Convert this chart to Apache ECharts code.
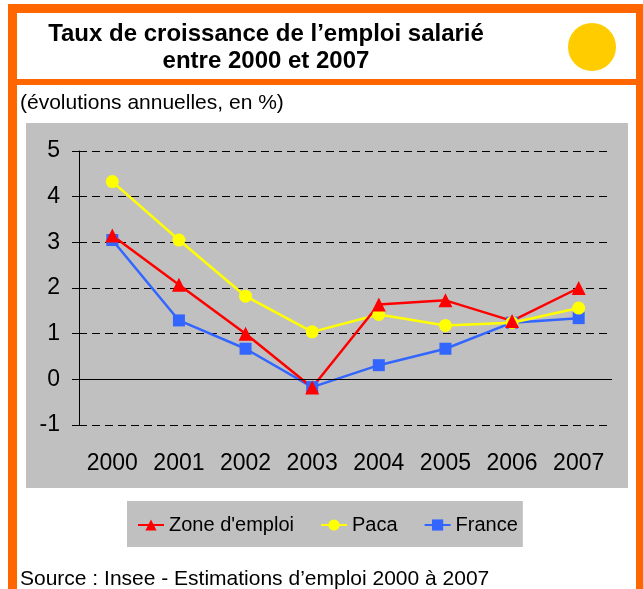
<!DOCTYPE html>
<html>
<head>
<meta charset="utf-8">
<script src="https://cdn.jsdelivr.net/npm/echarts@6/dist/echarts.min.js"></script>
<style>
  html, body { margin: 0; padding: 0; background: #fff; }
  #chart { width: 643px; height: 589px; }
</style>
</head>
<body>
<div id="chart"></div>
<script>
// données
const years = ['2000', '2001', '2002', '2003', '2004', '2005', '2006', '2007'];
const zoneEmploi = [3.15, 2.07, 1.0, -0.18, 1.64, 1.73, 1.28, 2.0];
const paca = [4.33, 3.05, 1.82, 1.04, 1.42, 1.18, 1.24, 1.56];
const france = [3.05, 1.29, 0.67, -0.17, 0.31, 0.67, 1.24, 1.34];
const yTicks = {min: -1, max: 5, step: 1};

const font = '"Liberation Sans", Arial, sans-serif';
const chart = echarts.init(document.getElementById('chart'));

chart.setOption({
  backgroundColor: '#fff',
  animation: false,
  textStyle: {fontFamily: font},
  graphic: [
    // cadre orange
    {type: 'rect', z: -10, shape: {x: 8, y: 4, width: 640, height: 600}, style: {fill: '#FF6600'}},
    {type: 'rect', z: -9, shape: {x: 17, y: 13, width: 619, height: 66}, style: {fill: '#fff'}},
    {type: 'rect', z: -9, shape: {x: 17, y: 85, width: 619, height: 600}, style: {fill: '#fff'}},
    // zone du graphique
    {type: 'rect', z: -8, shape: {x: 26, y: 123, width: 602, height: 365}, style: {fill: '#C0C0C0'}},
    // pastille jaune
    {type: 'circle', z: -7, shape: {cx: 592, cy: 47, r: 24}, style: {fill: '#FFCC00'}},
    {type: 'text', x: 266, y: 21, style: {
      text: 'Taux de croissance de l’emploi salarié\nentre 2000 et 2007',
      fontFamily: font, fontSize: 24, fontWeight: 'bold', fill: '#000',
      align: 'center', verticalAlign: 'top', lineHeight: 27
    }},
    {type: 'text', x: 20, y: 93, style: {
      text: '(évolutions annuelles, en %)', fontFamily: font, fontSize: 21, fill: '#000',
      verticalAlign: 'top'
    }},
    {type: 'text', x: 20, y: 569, style: {
      text: 'Source : Insee - Estimations d’emploi 2000 à 2007', fontFamily: font, fontSize: 21, fill: '#000',
      verticalAlign: 'top'
    }}
  ],
  legend: {
    data: ['Zone d\'emploi', 'Paca', 'France'],
    left: 127,
    top: 501,
    backgroundColor: '#C0C0C0',
    padding: [14, 5, 12, 10],
    itemWidth: 26,
    itemHeight: 14,
    itemGap: 26,
    textStyle: {fontFamily: font, fontSize: 20, color: '#000'}
  },
  grid: {left: 79, right: 31, top: 151, bottom: 164},
  xAxis: {
    type: 'category',
    data: years,
    boundaryGap: true,
    axisLine: {show: false, onZero: false},
    axisTick: {show: false},
    axisLabel: {fontFamily: font, fontSize: 23, color: '#000', margin: 27}
  },
  yAxis: {
    type: 'value',
    min: yTicks.min,
    max: yTicks.max,
    interval: yTicks.step,
    axisLine: {show: true, lineStyle: {color: '#000', width: 1}},
    axisTick: {show: true, length: 7, lineStyle: {color: '#000'}},
    axisLabel: {fontFamily: font, fontSize: 23, color: '#000', margin: 19},
    splitLine: {show: true, lineStyle: {color: '#000', width: 1, type: [8, 5]}}
  },
  series: [
    {
      name: 'France', type: 'line', data: france,
      symbol: 'rect', symbolSize: 12,
      itemStyle: {color: '#3366FF'}, lineStyle: {color: '#3366FF', width: 2.5},
      markLine: {
        silent: true, symbol: 'none', label: {show: false},
        lineStyle: {color: '#000', width: 1, type: 'solid'},
        data: [{yAxis: 0}]
      }
    },
    {
      name: 'Paca', type: 'line', data: paca,
      symbol: 'circle', symbolSize: 13,
      itemStyle: {color: '#FFFF00'}, lineStyle: {color: '#FFFF00', width: 2.5}
    },
    {
      name: 'Zone d\'emploi', type: 'line', data: zoneEmploi,
      symbol: 'triangle', symbolSize: 14,
      itemStyle: {color: '#FF0000'}, lineStyle: {color: '#FF0000', width: 2.5}
    }
  ]
});
</script>
</body>
</html>
